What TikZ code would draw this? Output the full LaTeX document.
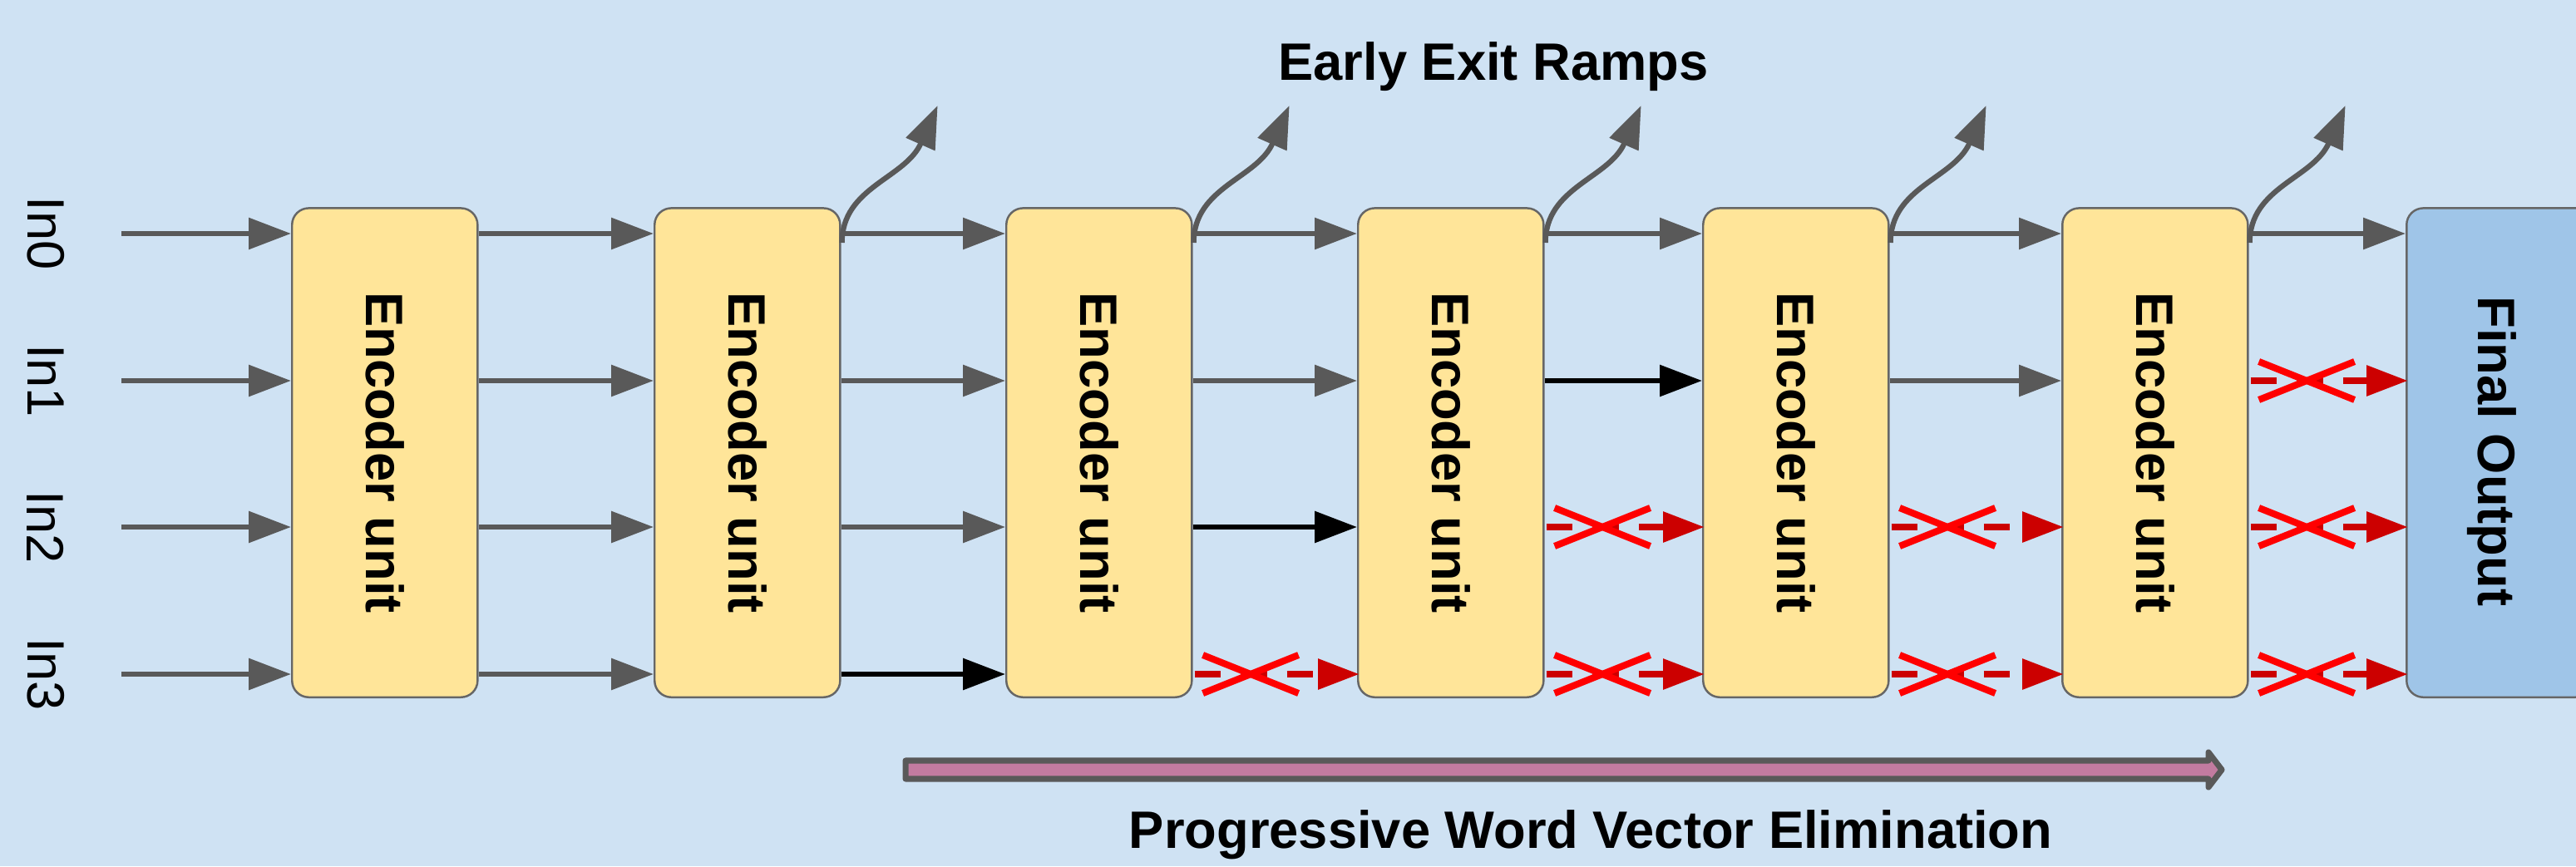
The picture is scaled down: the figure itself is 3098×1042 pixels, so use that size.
\documentclass[tikz,border=0pt]{standalone}
\usepackage{fontspec}
\setmainfont{Liberation Sans}
\usetikzlibrary{arrows.meta,calc}
\definecolor{bg}{HTML}{CFE2F3}
\definecolor{encfill}{HTML}{FFE599}
\definecolor{outfill}{HTML}{9FC5E8}
\definecolor{boxline}{HTML}{666666}
\definecolor{garr}{HTML}{595959}
\definecolor{dred}{HTML}{CC0000}
\definecolor{bred}{HTML}{FF0000}
\definecolor{pinkarr}{HTML}{C27BA0}
\begin{document}
\begin{tikzpicture}[x=0.01cm,y=0.01cm,
  encbox/.style={draw=boxline, line width=0.7pt, fill=encfill, rounded corners=5.7pt,
    minimum width=2.23cm, minimum height=5.88cm, inner sep=0pt},
  outbox/.style={encbox, fill=outfill},
  enctxt/.style={font=\fontsize{18}{21.6}\selectfont\bfseries, rotate=-90, inner sep=0pt},
  inlbl/.style={font=\fontsize{18}{21.6}\selectfont, rotate=-90, inner sep=0pt},
  ttl/.style={font=\fontsize{18}{21.6}\selectfont\bfseries, inner sep=0pt},
  garrow/.style={draw=garr, line width=1.8pt, -{Triangle[length=14.5pt,width=10.5pt]}},
  karrow/.style={draw=black, line width=1.8pt, -{Triangle[length=14.5pt,width=10.5pt]}},
  rarrow/.style={draw=dred, line width=2.4pt, dash pattern=on 9pt off 6.8pt,
    -{Triangle[length=14.2pt,width=10pt]}},
  xmark/.style={draw=bred, line width=2.3pt},
  bigarrow/.style={draw=garr, fill=pinkarr, line width=2pt, line join=round}
]
\useasboundingbox (0,0) rectangle (3098,1042);
\clip (0,0) rectangle (3098,1042);
\fill[bg] (0,0) rectangle (3098,1042);

% rows
\coordinate (r0) at (0,761);
\coordinate (r1) at (0,584);
\coordinate (r2) at (0,408);
\coordinate (r3) at (0,231);

% boxes
\foreach \i/\x in {1/350,2/786,3/1209,4/1632,5/2047,6/2479}
  \node[encbox, anchor=south west] (e\i) at (\x,202) {};
\node[outbox, anchor=south west] (fo) at (2893,202) {};

\foreach \i in {1,...,6}
  \node[enctxt] (et\i) at (e\i.center) {Encoder unit};
\node[enctxt, anchor=base] (fot) at (2980,499) {Final Output};

% input labels and arrows
\foreach \r in {0,...,3} {
  \node[inlbl] (lab\r) at ($(e1.west |- r\r)+(-295,0)$) {In\r};
  \coordinate (in\r) at ($(e1.west |- r\r)+(-204,0)$);
  \draw[garrow] (in\r) -- (e1.west |- r\r);
}

% gray arrows
\foreach \r/\a/\b in {0/e1/e2,0/e2/e3,0/e3/e4,0/e4/e5,0/e5/e6,0/e6/fo,
                      1/e1/e2,1/e2/e3,1/e3/e4,1/e5/e6,
                      2/e1/e2,2/e2/e3,
                      3/e1/e2}
  \draw[garrow] (\a.east |- r\r) -- (\b.west |- r\r);

% black arrows
\foreach \r/\a/\b in {1/e4/e5,2/e3/e4,3/e2/e3}
  \draw[karrow] (\a.east |- r\r) -- (\b.west |- r\r);

% eliminated (red, crossed) arrows
\foreach \r/\a/\b in {1/e6/fo,2/e4/e5,2/e5/e6,2/e6/fo,3/e3/e4,3/e4/e5,3/e5/e6,3/e6/fo} {
  \draw[rarrow] ($(\a.east |- r\r)+(2,0)$) -- ($(\b.west |- r\r)+(3,0)$);
  \draw[xmark] ($(\a.east |- r\r)+(12,-23)$) -- ++(115,46);
  \draw[xmark] ($(\a.east |- r\r)+(12,23)$) -- ++(115,-46);
}

% early exit ramps
\foreach \i in {2,...,6} {
  \coordinate (s\i) at ($(e\i.east |- r0)+(1,-11)$);
  \coordinate (t\i) at ($(s\i)+(115,165)$);
  \draw[garrow] (s\i) .. controls ($(s\i)+(0,67)$) and ($(t\i)+(-39,-88)$) .. (t\i);
}

\node[ttl, anchor=base] (ramps) at (1796,945) {Early Exit Ramps};

% progressive elimination arrow
\draw[bigarrow] (1089,105) -- (2656,105) -- (2656,95) -- (2672,116) -- (2656,137)
  -- (2656,127) -- (1089,127) -- cycle;
\node[ttl, anchor=base] (pwve) at (1913,22) {Progressive Word Vector Elimination};
\end{tikzpicture}
\end{document}
